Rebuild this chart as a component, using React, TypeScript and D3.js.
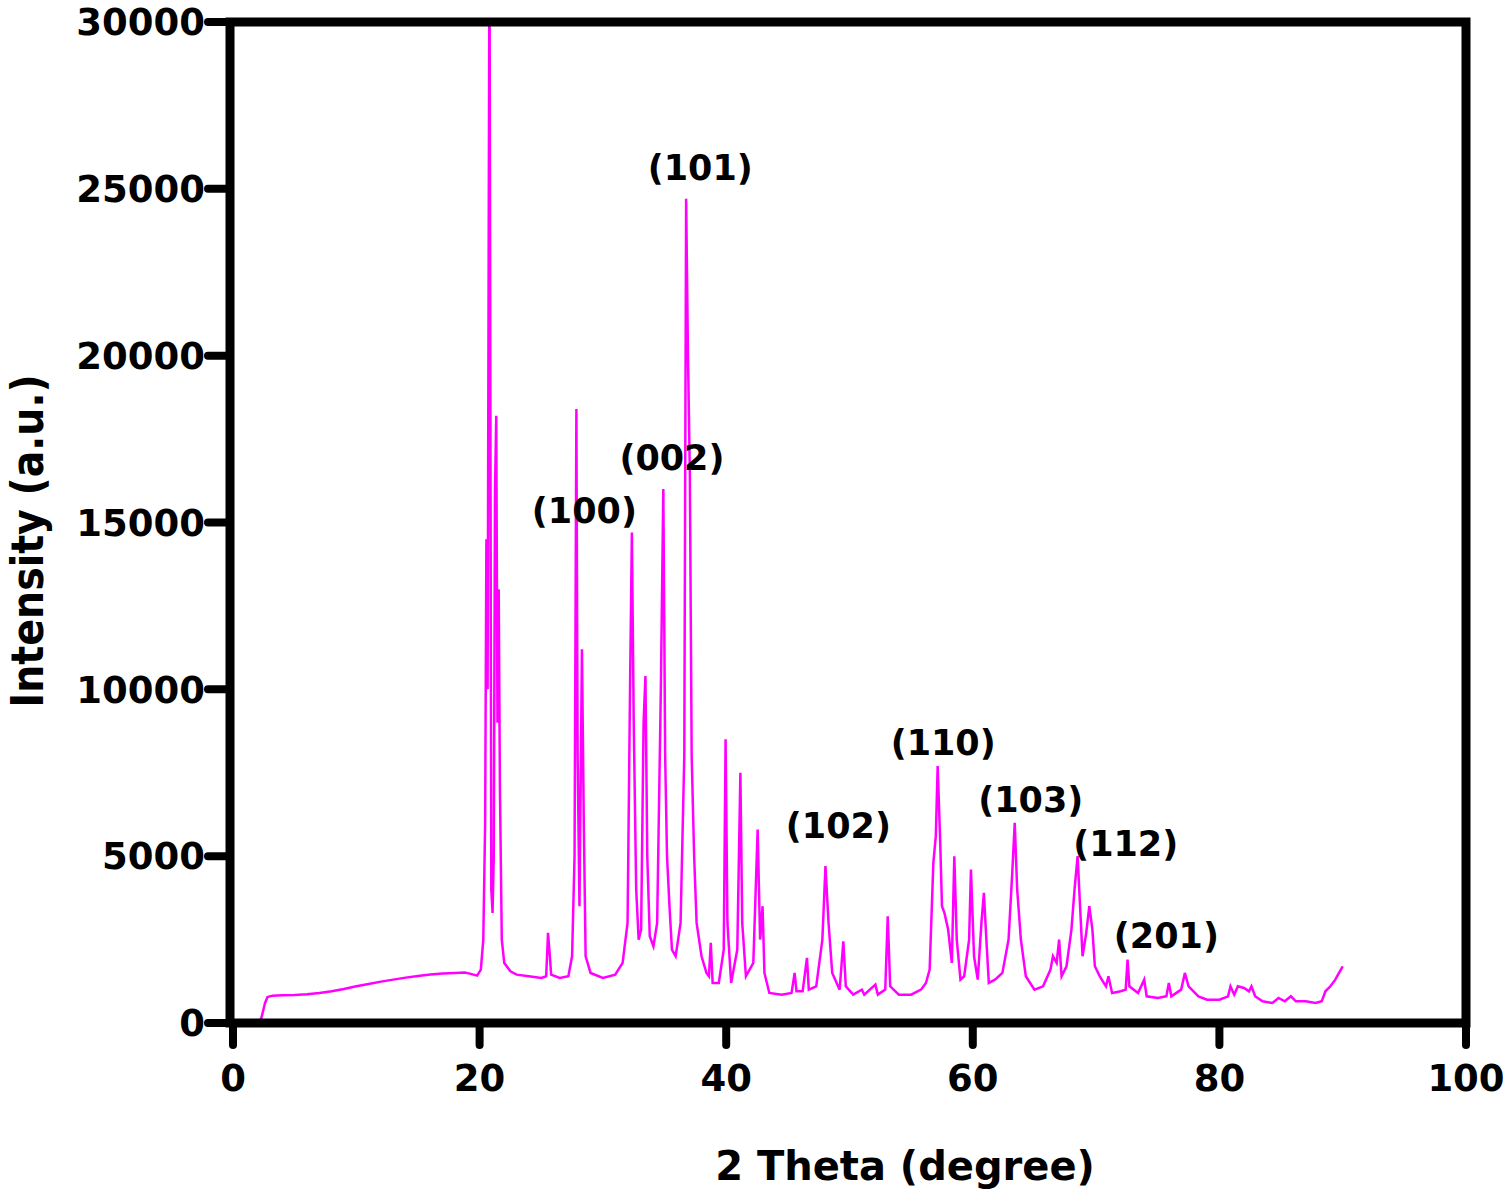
import * as d3 from "d3";
import { useEffect, useRef } from "react";

// 2θ (degree), intensity (a.u.)
const theta = [
  2.0, 2.3, 2.6, 2.8, 3.2, 4, 5, 6, 7, 8, 9, 10, 11, 12, 13, 14, 15, 16, 17, 18, 18.8, 19.2, 19.5, 19.8,
  20.1, 20.3, 20.45, 20.55, 20.65, 20.8, 20.95, 21.05, 21.15, 21.25, 21.35, 21.45, 21.55, 21.65, 21.8,
  22.0, 22.5, 23, 24, 25, 25.4, 25.55, 25.7, 25.8, 26.5, 27.2, 27.5, 27.7, 27.85, 27.95, 28.1, 28.3,
  28.45, 28.6, 29, 30, 31, 31.6, 32.0, 32.2, 32.35, 32.5, 32.7, 32.9, 33.1, 33.3, 33.45, 33.6, 33.8,
  34.1, 34.4, 34.7, 34.9, 35.05, 35.2, 35.4, 35.6, 35.9, 36.3, 36.6, 36.75, 36.9, 37.05, 37.2, 37.4,
  37.6, 38, 38.4, 38.6, 38.75, 38.9, 39.4, 39.8, 39.95, 40.1, 40.4, 40.9, 41.15, 41.3, 41.6, 42.2,
  42.55, 42.75, 42.95, 43.1, 43.5, 44.5, 45.3, 45.55, 45.7, 46.2, 46.55, 46.7, 47.3, 47.8, 48.05,
  48.3, 48.6, 49.2, 49.5, 49.7, 50.3, 51.0, 51.2, 52.1, 52.3, 52.9, 53.1, 53.3, 54, 55, 55.8, 56.2,
  56.5, 56.8, 57.0, 57.15, 57.35, 57.5, 57.7, 58.0, 58.3, 58.5, 58.7, 59.0, 59.3, 59.7, 59.85, 60.1,
  60.4, 60.7, 60.9, 61.1, 61.3, 61.8, 62.4, 62.9, 63.2, 63.4, 63.6, 63.9, 64.3, 65.0, 65.7, 66.3,
  66.5, 66.8, 67.0, 67.2, 67.6, 68.0, 68.25, 68.5, 68.7, 68.9, 69.2, 69.45, 69.7, 69.9, 70.3, 70.8,
  71.0, 71.3, 72.0, 72.4, 72.55, 72.7, 73.4, 73.9, 74.1, 75.0, 75.7, 75.9, 76.1, 76.9, 77.2, 77.5,
  78.3, 79, 80, 80.7, 80.9, 81.2, 81.5, 82.0, 82.4, 82.6, 82.9, 83.5, 84.3, 84.8, 85.3, 85.8, 86.2,
  87, 87.8, 88.3, 88.6, 89.0, 89.4, 89.7, 90.0,
];
const intensity = [
  0, 150, 600, 780, 820, 830, 840, 860, 900, 950, 1020, 1100, 1170, 1240, 1300, 1360, 1410, 1450, 1480, 1500, 1510, 1480, 1450, 1420,
  1600, 2500, 6000, 14500, 10000, 33000, 4000, 3300, 5000, 16000, 18200, 9000, 13000, 7000, 2500,
  1800, 1550, 1450, 1400, 1350, 1400, 2700, 2000, 1450, 1350, 1400, 2000, 5000, 18400, 8000, 3500, 11200,
  6000, 2000, 1500, 1350, 1450, 1800, 3000, 10000, 14700, 9000, 4000, 2500, 2800, 9000, 10400, 5000, 2600,
  2300, 3000, 10000, 16000, 8000, 5000, 3500, 2200, 2000, 3000, 8000, 24700, 20000, 16500, 8000, 5000,
  3000, 2000, 1500, 1400, 2400, 1200, 1200, 2200, 8500, 3000, 1200, 2200, 7500, 3000, 1400, 1800,
  5800, 2500, 3500, 1500, 900, 850, 900, 1500, 950, 950, 1950, 1000, 1100, 2500, 4700,
  3000, 1500, 1000, 2450, 1100, 850, 1000, 850, 1150, 850, 1000, 3200, 1100, 850, 850, 1000, 1200,
  1600, 4800, 5600, 7700, 5500, 3500, 3300, 2800, 1800, 5000, 2500, 1300, 1400, 2500, 4600, 2000,
  1300, 3000, 3900, 2500, 1200, 1300, 1500, 2500, 4500, 6000, 4000, 2500, 1400, 1000, 1100, 1600,
  2000, 1800, 2500, 1400, 1700, 2800, 4000, 5000, 3500, 2000, 2700, 3500, 2800, 1700, 1400, 1100,
  1400, 900, 950, 1000, 1900, 1100, 900, 1300, 800, 750, 800, 1200, 800, 1000, 1500, 1100,
  800, 700, 700, 800, 1100, 850, 1100, 1050, 950, 1100, 800, 650, 600, 750, 650, 800, 650,
  650, 600, 650, 950, 1100, 1300, 1500, 1700,
];

const xTicks = [0, 20, 40, 60, 80, 100];
const yTicks = [0, 5000, 10000, 15000, 20000, 25000, 30000];

const peakLabels = ["(101)", "(002)", "(100)", "(102)", "(110)", "(103)", "(112)", "(201)"];
const peakLabelTheta = [37.9, 35.6, 28.5, 49.1, 57.6, 64.7, 72.4, 75.7];
const peakLabelIntensity = [25650, 16960, 15370, 5930, 8420, 6710, 5390, 2640];

export default function App() {
  const svgRef = useRef<SVGSVGElement | null>(null);

  useEffect(() => {
    if (!svgRef.current) return;
    const width = 1506;
    const height = 1198;
    const left = 230, right = 1466, top = 22, bottom = 1023;

    const x = d3.scaleLinear().domain([0, 100]).range([left + 3, right]);
    const y = d3.scaleLinear().domain([0, 30000]).range([bottom, top]);

    const svg = d3.select(svgRef.current);
    svg.selectAll("*").remove();
    svg.attr("width", width).attr("height", height);

    svg.append("rect").attr("width", width).attr("height", height).attr("fill", "#fff");

    svg
      .append("clipPath")
      .attr("id", "plot-clip")
      .append("rect")
      .attr("x", left)
      .attr("y", top)
      .attr("width", right - left)
      .attr("height", bottom - top);

    const pts = theta.map((t, i) => [t, intensity[i]] as [number, number]);
    const line = d3
      .line<[number, number]>()
      .x((d) => x(d[0]))
      .y((d) => y(d[1]));

    svg
      .append("path")
      .attr("d", line(pts))
      .attr("fill", "none")
      .attr("stroke", "#ff00ff")
      .attr("stroke-width", 2.5)
      .attr("stroke-linejoin", "miter")
      .attr("clip-path", "url(#plot-clip)");

    // frame
    svg
      .append("rect")
      .attr("x", left)
      .attr("y", top)
      .attr("width", right - left)
      .attr("height", bottom - top)
      .attr("fill", "none")
      .attr("stroke", "#000")
      .attr("stroke-width", 9);

    const font = "'DejaVu Sans', sans-serif";

    // y ticks
    const yg = svg.append("g");
    yg.selectAll("line")
      .data(yTicks)
      .enter()
      .append("line")
      .attr("x1", left - 22)
      .attr("x2", left)
      .attr("y1", (d) => y(d))
      .attr("y2", (d) => y(d))
      .attr("stroke", "#000")
      .attr("stroke-width", 8)
      .attr("stroke-linecap", "round");
    yg.selectAll("text")
      .data(yTicks)
      .enter()
      .append("text")
      .attr("x", 205)
      .attr("y", (d) => y(d))
      .attr("dy", "0.36em")
      .attr("text-anchor", "end")
      .attr("font-family", font)
      .attr("font-weight", "bold")
      .attr("font-size", 37)
      .text((d) => String(d));

    // x ticks
    const xg = svg.append("g");
    xg.selectAll("line")
      .data(xTicks)
      .enter()
      .append("line")
      .attr("x1", (d) => x(d))
      .attr("x2", (d) => x(d))
      .attr("y1", bottom)
      .attr("y2", bottom + 22)
      .attr("stroke", "#000")
      .attr("stroke-width", 8)
      .attr("stroke-linecap", "round");
    xg.selectAll("text")
      .data(xTicks)
      .enter()
      .append("text")
      .attr("x", (d) => x(d))
      .attr("y", 1091)
      .attr("text-anchor", "middle")
      .attr("font-family", font)
      .attr("font-weight", "bold")
      .attr("font-size", 37)
      .text((d) => String(d));

    // peak labels
    svg
      .append("g")
      .selectAll("text")
      .data(peakLabels)
      .enter()
      .append("text")
      .attr("x", (_, i) => x(peakLabelTheta[i]))
      .attr("y", (_, i) => y(peakLabelIntensity[i]))
      .attr("dy", "0.36em")
      .attr("text-anchor", "middle")
      .attr("font-family", font)
      .attr("font-weight", "bold")
      .attr("font-size", 35)
      .text((d) => d);

    // axis titles
    svg
      .append("text")
      .attr("x", 905)
      .attr("y", 1180)
      .attr("text-anchor", "middle")
      .attr("font-family", font)
      .attr("font-weight", "bold")
      .attr("font-size", 40)
      .text("2 Theta (degree)");

    svg
      .append("text")
      .attr("transform", "translate(43,541) rotate(-90)")
      .attr("text-anchor", "middle")
      .attr("font-family", "'Liberation Sans Narrow', 'DejaVu Sans Condensed', sans-serif")
      .attr("font-weight", "bold")
      .attr("font-size", 44)
      .attr("textLength", 333)
      .attr("lengthAdjust", "spacingAndGlyphs")
      .text("Intensity (a.u.)");
  }, []);

  return (
    <svg
      ref={svgRef}
      width={1506}
      height={1198}
      style={{ position: "absolute", left: 0, top: 0, display: "block" }}
    />
  );
}
